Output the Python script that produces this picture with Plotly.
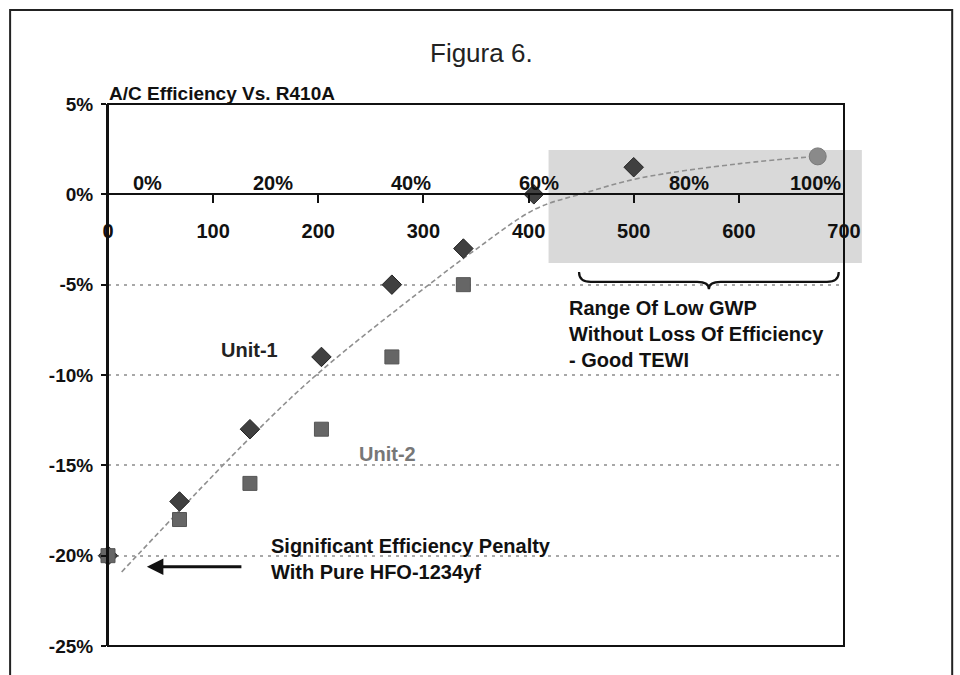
import plotly.graph_objects as go

# ---- data -------------------------------------------------------------
# Unit-1 (diamonds): GWP of the blend vs. efficiency relative to R410A (%)
unit1_gwp = [0, 68, 135, 203, 270, 338, 405, 500]
unit1_eff = [-20, -17, -13, -9, -5, -3, 0, 1.5]

# Unit-2 (squares)
unit2_gwp = [0, 68, 135, 203, 270, 338]
unit2_eff = [-20, -18, -16, -13, -9, -5]

# Pure R32 point (circle)
r32_gwp = [675]
r32_eff = [2.1]

# Dashed trend line through the results
trend_gwp = [13, 138, 202, 303, 351, 407, 452, 506, 601, 673]
trend_eff = [-20.9, -13.3, -9.8, -5.1, -3.0, -0.8, 0.05, 0.9, 1.7, 2.1]

# Axis ticks
gwp_ticks = [0, 100, 200, 300, 400, 500, 600, 700]
eff_ticks = [5, 0, -5, -10, -15, -20, -25]
eff_ticktext = ["5%", "0%", "-5%", "-10%", "-15%", "-20%", "-25%"]

# % R32 labels along the top of the zero line
r32_labels = ["0%", "20%", "40%", "60%", "80%", "100%"]
r32_label_gwp = [38, 157, 288, 410, 553, 673]

# Low-GWP range highlighted in grey
region_gwp = [419, 717]
region_eff = [-3.8, 2.45]

X_RANGE = [0, 700]
Y_RANGE = [-25, 5]

FONT = "Liberation Sans, Arial, Helvetica, sans-serif"
INK = "#111111"


def px(g):
    """GWP value -> paper x fraction."""
    return (g - X_RANGE[0]) / (X_RANGE[1] - X_RANGE[0])


def py(e):
    """Efficiency value -> paper y fraction."""
    return (e - Y_RANGE[0]) / (Y_RANGE[1] - Y_RANGE[0])


fig = go.Figure()

fig.add_trace(go.Scatter(
    x=trend_gwp, y=trend_eff, mode="lines", line_shape="spline",
    line=dict(color="#8f8f8f", width=1.6, dash="5px,3px"),
    hoverinfo="skip", showlegend=False, cliponaxis=False,
))
fig.add_trace(go.Scatter(
    x=unit1_gwp, y=unit1_eff, mode="markers", name="Unit-1",
    marker=dict(symbol="diamond", size=15, color="#404040",
                line=dict(color="#222222", width=1)),
    showlegend=False, cliponaxis=False,
))
fig.add_trace(go.Scatter(
    x=unit2_gwp, y=unit2_eff, mode="markers", name="Unit-2",
    marker=dict(symbol="square", size=14, color="#666666",
                line=dict(color="#555555", width=1)),
    showlegend=False, cliponaxis=False,
))
fig.add_trace(go.Scatter(
    x=r32_gwp, y=r32_eff, mode="markers", name="R32",
    marker=dict(symbol="circle", size=17, color="#8a8a8a",
                line=dict(color="#7a7a7a", width=1)),
    showlegend=False, cliponaxis=False,
))

shapes = []
# outer frame
shapes.append(dict(type="rect", xref="paper", yref="paper",
                   x0=-0.133, x1=1.147, y0=-0.12, y1=1.1735,
                   line=dict(color="#222222", width=2), layer="below"))
# grey low-GWP region
shapes.append(dict(type="rect", xref="paper", yref="paper",
                   x0=px(region_gwp[0]), x1=px(region_gwp[1]),
                   y0=py(region_eff[0]), y1=py(region_eff[1]),
                   fillcolor="#d9d9d9", line=dict(width=0), layer="below"))
# plot border
shapes.append(dict(type="rect", xref="paper", yref="paper",
                   x0=0, x1=1, y0=0, y1=1,
                   line=dict(color="#111111", width=2), layer="above"))

# curly brace under the grey region
bx0, bx1 = px(448), px(695)
bxm = (bx0 + bx1) / 2
by_top, by_mid, by_tip = py(-4.3), py(-4.85), py(-5.25)
dx = 0.016
brace = (f"M {bx0},{by_top} Q {bx0},{by_mid} {bx0 + dx},{by_mid} "
         f"L {bxm - dx},{by_mid} Q {bxm},{by_mid} {bxm},{by_tip} "
         f"Q {bxm},{by_mid} {bxm + dx},{by_mid} "
         f"L {bx1 - dx},{by_mid} Q {bx1},{by_mid} {bx1},{by_top}")
shapes.append(dict(type="path", xref="paper", yref="paper", path=brace,
                   line=dict(color="#111111", width=2.2)))

annotations = []
annotations.append(dict(text="Figura 6.", xref="paper", yref="paper",
                        x=0.508, y=1.094, xanchor="center", yanchor="middle",
                        showarrow=False,
                        font=dict(family=FONT, size=26, color="#222222")))
annotations.append(dict(text="<b>A/C Efficiency Vs. R410A</b>", xref="paper", yref="paper",
                        x=-0.002, y=1.0185, xanchor="left", yanchor="middle",
                        showarrow=False, font=dict(family=FONT, size=19, color=INK)))
for lab, g in zip(r32_labels, r32_label_gwp):
    annotations.append(dict(text=f"<b>{lab}</b>", x=g, y=0.65, xref="x", yref="y",
                            showarrow=False, xanchor="center", yanchor="middle",
                            font=dict(family=FONT, size=20, color=INK)))
annotations.append(dict(text="<b>% R32</b>", x=720, y=1.35, xref="x", yref="y",
                        xanchor="left", yanchor="middle", showarrow=False,
                        font=dict(family=FONT, size=20, color=INK)))
annotations.append(dict(text="<b>GWP</b>", x=734, y=-1.14, xref="x", yref="y",
                        xanchor="left", yanchor="middle", showarrow=False,
                        font=dict(family=FONT, size=19, color=INK)))
annotations.append(dict(text="<b>Unit-1</b>", x=135, y=-8.6, xref="x", yref="y",
                        xanchor="center", yanchor="middle", showarrow=False,
                        font=dict(family=FONT, size=20, color="#222222")))
annotations.append(dict(text="<b>Unit-2</b>", x=266, y=-14.4, xref="x", yref="y",
                        xanchor="center", yanchor="middle", showarrow=False,
                        font=dict(family=FONT, size=20, color="#777777")))
annotations.append(dict(text="<b>Range Of Low GWP<br>Without Loss Of Efficiency<br>- Good TEWI</b>",
                        x=437, y=-7.73, xref="x", yref="y", align="left",
                        xanchor="left", yanchor="middle", showarrow=False,
                        font=dict(family=FONT, size=20, color=INK)))
annotations.append(dict(text="<b>Significant Efficiency Penalty<br>With Pure HFO-1234yf</b>",
                        x=153, y=-20.2, xref="x", yref="y", align="left",
                        xanchor="left", yanchor="middle", showarrow=False,
                        font=dict(family=FONT, size=20, color=INK)))
# arrow pointing at the pure HFO-1234yf result
annotations.append(dict(text="", x=37, y=-20.62, xref="x", yref="y",
                        ax=96, ay=0, axref="pixel", ayref="pixel",
                        showarrow=True, arrowhead=2, arrowsize=1.1,
                        arrowwidth=3, arrowcolor="#111111"))

fig.update_layout(
    width=960, height=675,
    margin=dict(l=108, r=116, t=104, b=29, pad=0),
    paper_bgcolor="white", plot_bgcolor="rgba(0,0,0,0)",
    showlegend=False,
    shapes=shapes, annotations=annotations,
    xaxis=dict(
        range=X_RANGE, tickvals=gwp_ticks, ticktext=[str(v) for v in gwp_ticks],
        anchor="free", position=py(0), side="bottom",
        showline=True, linecolor="#111111", linewidth=2,
        ticks="outside", ticklen=8, tickwidth=2, tickcolor="#111111",
        ticklabelstandoff=11,
        tickfont=dict(family=FONT, size=20, color=INK, weight="bold"),
        showgrid=False, zeroline=False, fixedrange=True,
    ),
    yaxis=dict(
        range=Y_RANGE, tickvals=eff_ticks, ticktext=eff_ticktext,
        showline=True, linecolor="#111111", linewidth=2,
        ticks="outside", ticklen=5, tickwidth=2, tickcolor="#111111",
        ticklabelstandoff=4,
        tickfont=dict(family=FONT, size=19, color=INK, weight="bold"),
        showgrid=True, gridcolor="#a8a8a8", gridwidth=1.5, griddash="3px,5px",
        zeroline=False, fixedrange=True,
    ),
)

fig.write_html("out.html")
